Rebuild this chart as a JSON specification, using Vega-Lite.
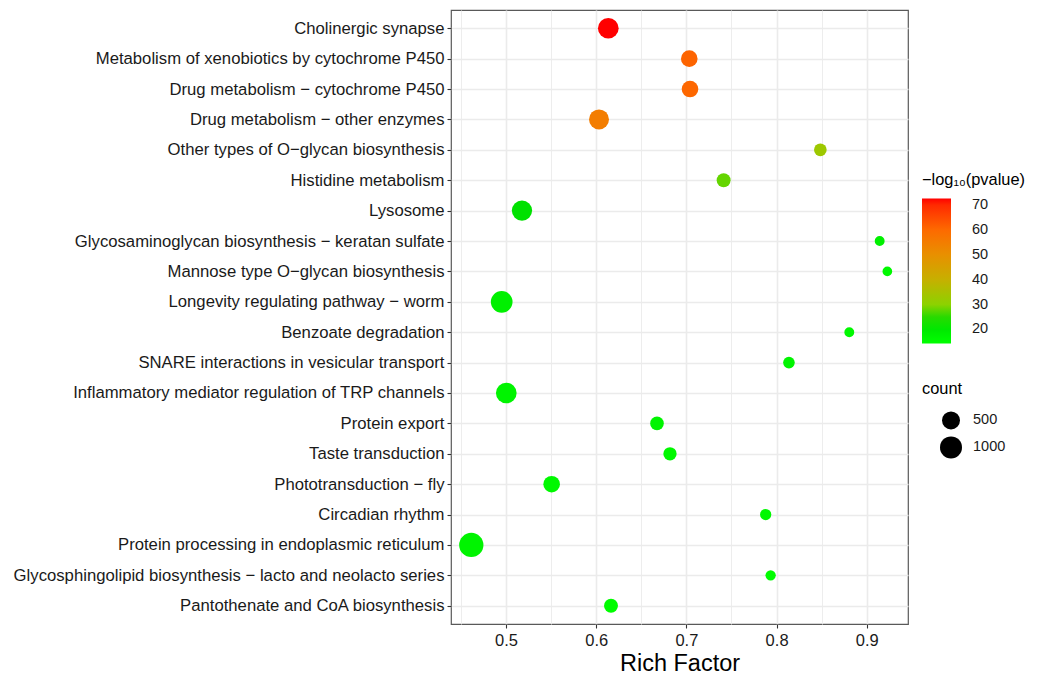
{
  "$schema": "https://vega.github.io/schema/vega-lite/v6.json",
  "width": 457,
  "height": 614,
  "autosize": {"type": "none"},
  "padding": {"left": 451, "top": 10, "right": 136, "bottom": 51},
  "background": "white",
  "config": {
    "font": "Liberation Sans",
    "view": {"stroke": "#595959", "strokeWidth": 1.2}
  },
  "data": {
    "values": [
      {"pathway": "Cholinergic synapse", "rf": 0.6134, "p": 72.7, "count": 817},
      {"pathway": "Metabolism of xenobiotics by cytochrome P450", "rf": 0.7032, "p": 61, "count": 379},
      {"pathway": "Drug metabolism − cytochrome P450", "rf": 0.704, "p": 60.5, "count": 385},
      {"pathway": "Drug metabolism − other enzymes", "rf": 0.6031, "p": 55, "count": 727},
      {"pathway": "Other types of O−glycan biosynthesis", "rf": 0.8485, "p": 33, "count": 137},
      {"pathway": "Histidine metabolism", "rf": 0.7413, "p": 28, "count": 194},
      {"pathway": "Lysosome", "rf": 0.5177, "p": 22, "count": 765},
      {"pathway": "Glycosaminoglycan biosynthesis − keratan sulfate", "rf": 0.9143, "p": 18, "count": 84},
      {"pathway": "Mannose type O−glycan biosynthesis", "rf": 0.9228, "p": 16, "count": 82},
      {"pathway": "Longevity regulating pathway − worm", "rf": 0.4952, "p": 18, "count": 957},
      {"pathway": "Benzoate degradation", "rf": 0.8806, "p": 16, "count": 84},
      {"pathway": "SNARE interactions in vesicular transport", "rf": 0.8137, "p": 17, "count": 106},
      {"pathway": "Inflammatory mediator regulation of TRP channels", "rf": 0.5003, "p": 17, "count": 817},
      {"pathway": "Protein export", "rf": 0.6674, "p": 17, "count": 179},
      {"pathway": "Taste transduction", "rf": 0.6818, "p": 16, "count": 161},
      {"pathway": "Phototransduction − fly", "rf": 0.5506, "p": 16, "count": 379},
      {"pathway": "Circadian rhythm", "rf": 0.7879, "p": 16, "count": 98},
      {"pathway": "Protein processing in endoplasmic reticulum", "rf": 0.4615, "p": 17, "count": 1377},
      {"pathway": "Glycosphingolipid biosynthesis − lacto and neolacto series", "rf": 0.7934, "p": 15, "count": 88},
      {"pathway": "Pantothenate and CoA biosynthesis", "rf": 0.6164, "p": 15, "count": 194}
    ]
  },
  "mark": {"type": "circle", "opacity": 1, "strokeWidth": 0},
  "encoding": {
    "y": {
      "field": "pathway",
      "type": "nominal",
      "sort": null,
      "scale": {"type": "point", "padding": 0.6},
      "axis": {
        "title": null,
        "domain": false,
        "grid": true,
        "gridColor": "#EBEBEB",
        "gridWidth": 1.6,
        "tickColor": "#333333",
        "tickSize": 4,
        "tickWidth": 1.1,
        "labelFont": "Liberation Sans",
        "labelFontSize": 16.7,
        "labelColor": "#1a1a1a",
        "labelPadding": 3,
        "labelLimit": 600
      }
    },
    "x": {
      "field": "rf",
      "type": "quantitative",
      "scale": {"domain": [0.439, 0.9457], "nice": false, "zero": false},
      "axis": {
        "title": "Rich Factor",
        "titleFont": "Liberation Sans",
        "titleFontSize": 23.5,
        "titleFontWeight": "normal",
        "titleColor": "#000000",
        "titlePadding": 3,
        "values": [0.45, 0.5, 0.55, 0.6, 0.65, 0.7, 0.75, 0.8, 0.85, 0.9],
        "labelExpr": "(round(datum.value*100) % 10 == 0) ? format(datum.value, '.1f') : ''",
        "domain": false,
        "grid": true,
        "gridColor": "#EBEBEB",
        "gridWidth": {"condition": {"test": "round(datum.value*100) % 10 == 0", "value": 1.6}, "value": 0.9},
        "tickColor": {"condition": {"test": "round(datum.value*100) % 10 == 0", "value": "#333333"}, "value": "transparent"},
        "tickSize": 4,
        "tickWidth": 1.1,
        "labelFont": "Liberation Sans",
        "labelFontSize": 16.5,
        "labelColor": "#1a1a1a",
        "labelPadding": 4
      }
    },
    "color": {
      "field": "p",
      "type": "quantitative",
      "scale": {
        "domain": [14.4, 18, 23, 30, 40, 50, 60, 70, 72.7],
        "range": ["#00FF00", "#00F000", "#00DD00", "#8CD200", "#C6B000", "#E89000", "#FD6A00", "#FF2A00", "#FF0000"],
        "interpolate": "rgb"
      },
      "legend": {
        "title": "−log₁₀(pvalue)",
        "orient": "none",
        "legendX": 471,
        "legendY": 162,
        "direction": "vertical",
        "gradientLength": 145,
        "gradientThickness": 29,
        "gradientStrokeWidth": 0,
        "values": [20, 30, 40, 50, 60, 70],
        "titleFont": "Liberation Sans",
        "titleFontSize": 16.4,
        "titleFontWeight": "normal",
        "titleColor": "#000000",
        "titlePadding": 10,
        "labelFont": "Liberation Sans",
        "labelFontSize": 14.5,
        "labelColor": "#1a1a1a",
        "labelOffset": 21
      }
    },
    "size": {
      "field": "count",
      "type": "quantitative",
      "scale": {
        "type": "linear",
        "zero": false,
        "domain": [82, 100, 150, 250, 500, 750, 1000, 1377],
        "range": [94.1, 130.4, 170.3, 223.8, 324, 407.6, 484, 590.5]
      },
      "legend": {
        "title": "count",
        "orient": "none",
        "legendX": 471,
        "legendY": 371,
        "values": [500, 1000],
        "format": "d",
        "symbolType": "circle",
        "symbolFillColor": "#000000",
        "symbolStrokeWidth": 0,
        "symbolOpacity": 1,
        "symbolOffset": 18,
        "rowPadding": 7,
        "titleFont": "Liberation Sans",
        "titleFontSize": 16.4,
        "titleFontWeight": "normal",
        "titleColor": "#000000",
        "titlePadding": 14,
        "labelFont": "Liberation Sans",
        "labelFontSize": 14.5,
        "labelColor": "#1a1a1a",
        "labelOffset": 11
      }
    }
  }
}
